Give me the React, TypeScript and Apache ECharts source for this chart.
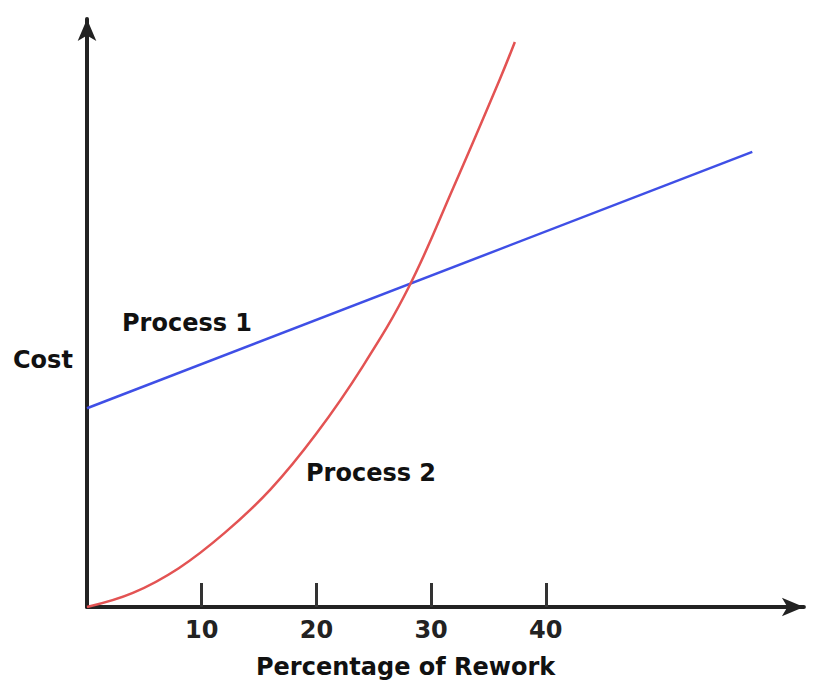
import React, { useEffect, useRef } from "react";
import * as echarts from "echarts";

const tickValues = [10, 20, 30, 40];
const process1X = [0, 58.0];
const process1Y = [33.8, 77.4];
const process2X = [0, 4, 8, 12, 16, 20, 24, 28, 32, 36, 37.3];
const process2Y = [0, 2.4, 6.6, 12.6, 20.0, 29.5, 40.8, 54.2, 71.6, 89.8, 96.1];
const xName = "Percentage of Rework";
const yName = "Cost";
const seriesNames = ["Process 1", "Process 2"];

const FONT = "DejaVu Sans";

export default function App() {
  const ref = useRef<HTMLDivElement>(null);
  useEffect(() => {
    if (!ref.current) return;
    const chart = echarts.init(ref.current, null, { renderer: "svg" });
    const axisLine = {
      show: true,
      symbol: ["none", "arrow"],
      symbolSize: [14, 22],
      lineStyle: { color: "#222", width: 4 },
    };
    const textStyle = { fontFamily: FONT, fontWeight: "bold", fontSize: 24, fill: "#111" };
    chart.setOption({
      animation: false,
      backgroundColor: "#fff",
      grid: { left: 87, top: 19, width: 716.9, height: 588 },
      xAxis: {
        type: "value",
        min: 0,
        max: 62.5,
        axisLine,
        splitLine: { show: false },
        axisTick: {
          show: true,
          inside: true,
          length: 24,
          customValues: tickValues,
          lineStyle: { color: "#333", width: 3 },
        },
        axisLabel: {
          show: true,
          customValues: tickValues,
          margin: 11,
          fontFamily: FONT,
          fontWeight: "bold",
          fontSize: 24,
          color: "#222",
        },
      },
      yAxis: {
        type: "value",
        min: 0,
        max: 100,
        axisLine,
        splitLine: { show: false },
        axisTick: { show: false },
        axisLabel: { show: false },
      },
      series: [
        {
          name: seriesNames[0],
          type: "line",
          data: process1X.map((x, i) => [x, process1Y[i]]),
          showSymbol: false,
          lineStyle: { color: "#3f4fe6", width: 2.5 },
        },
        {
          name: seriesNames[1],
          type: "line",
          smooth: 0.4,
          data: process2X.map((x, i) => [x, process2Y[i]]),
          showSymbol: false,
          lineStyle: { color: "#e35353", width: 2.5 },
        },
      ],
      graphic: [
        { type: "text", left: 13, top: 348, style: { ...textStyle, text: yName } },
        { type: "text", left: 122, top: 311, style: { ...textStyle, text: seriesNames[0] } },
        { type: "text", left: 306, top: 461, style: { ...textStyle, text: seriesNames[1] } },
        { type: "text", left: 256, top: 655, style: { ...textStyle, text: xName } },
      ],
    });
    return () => chart.dispose();
  }, []);
  return (
    <div
      ref={ref}
      style={{ position: "fixed", left: 0, top: 0, width: 813, height: 686, background: "#fff" }}
    />
  );
}
